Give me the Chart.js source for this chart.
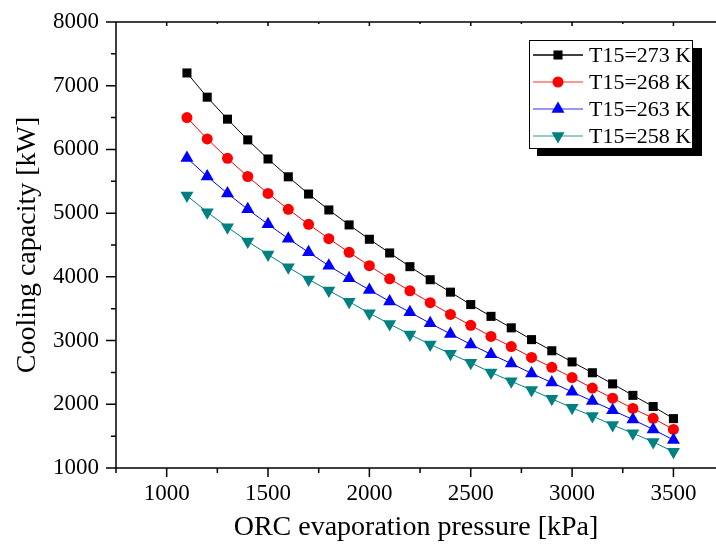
<!DOCTYPE html>
<html lang="en">
<head>
  <meta charset="UTF-8">
  <title>Cooling capacity vs ORC evaporation pressure</title>
  <style>
    body {
      margin: 0;
      padding: 0;
      background: #fff;
    }
    #chart {
      display: block;
    }
  </style>
</head>
<body>

<canvas id="chart" width="716" height="544"></canvas>

<script src="https://cdn.jsdelivr.net/npm/chart.js"></script>

<script>
  // ORC evaporation pressure [kPa]
  var pressure = [1100, 1200, 1300, 1400, 1500, 1600, 1700, 1800, 1900, 2000,
                  2100, 2200, 2300, 2400, 2500, 2600, 2700, 2800, 2900, 3000,
                  3100, 3200, 3300, 3400, 3500];

  // Cooling capacity [kW] for each T15
  var t273 = [7200, 6820, 6475, 6150, 5850, 5570, 5300, 5050, 4815, 4590,
              4375, 4160, 3955, 3760, 3565, 3380, 3200, 3015, 2840, 2665,
              2495, 2320, 2140, 1965, 1775];
  var t268 = [6500, 6165, 5860, 5575, 5310, 5060, 4825, 4600, 4385, 4175,
              3970, 3780, 3595, 3410, 3240, 3065, 2905, 2735, 2580, 2420,
              2255, 2095, 1935, 1780, 1605];
  var t263 = [5865, 5575, 5310, 5060, 4825, 4600, 4385, 4175, 3980, 3795,
              3615, 3445, 3270, 3105, 2940, 2785, 2640, 2485, 2340, 2195,
              2050, 1905, 1760, 1605, 1440];
  var t258 = [5275, 5015, 4780, 4555, 4350, 4150, 3960, 3785, 3610, 3430,
              3260, 3095, 2940, 2795, 2650, 2500, 2360, 2225, 2085, 1945,
              1815, 1675, 1545, 1410, 1255];

  var seriesLabels = ['T15=273 K', 'T15=268 K', 'T15=263 K', 'T15=258 K'];
  // major (labelled) and minor tick positions
  var xTickLabels = [1000, 1500, 2000, 2500, 3000, 3500];
  var xMinorTicks = [750, 1250, 1750, 2250, 2750, 3250];
  var yTickLabels = [1000, 2000, 3000, 4000, 5000, 6000, 7000, 8000];
  var yMinorTicks = [1500, 2500, 3500, 4500, 5500, 6500, 7500];

  var FONT = "'Liberation Serif', 'Times New Roman', serif";

  function toPoints(ys) {
    return ys.map(function(y, i) { return { x: pressure[i], y: y }; });
  }

  function tickList(major, minor) {
    return major.concat(minor).sort(function(a, b) { return a - b; })
      .map(function(v) { return { value: v }; });
  }

  // axis lines + Origin style tick marks (major long, minor short)
  var frame = {
    id: 'frame',
    afterDraw: function(chart) {
      var ctx = chart.ctx;
      var a = chart.chartArea;
      var xs = chart.scales.x;
      var ys = chart.scales.y;
      ctx.save();
      ctx.strokeStyle = '#000';
      ctx.lineWidth = 1.5;
      ctx.beginPath();
      ctx.moveTo(a.left, a.top);
      ctx.lineTo(a.left, a.bottom);
      ctx.lineTo(a.right, a.bottom);
      ctx.moveTo(a.left, a.top);
      ctx.lineTo(a.right, a.top);

      xs.ticks.forEach(function(t) {
        var px = xs.getPixelForValue(t.value);
        var major = xTickLabels.indexOf(t.value) >= 0;
        ctx.moveTo(px, a.bottom);
        ctx.lineTo(px, a.bottom + (major ? 9 : 5));
        ctx.moveTo(px, a.top);
        ctx.lineTo(px, a.top + (major ? 4 : 2));
      });
      ys.ticks.forEach(function(t) {
        var py = ys.getPixelForValue(t.value);
        var major = yTickLabels.indexOf(t.value) >= 0;
        ctx.moveTo(a.left, py);
        ctx.lineTo(a.left - (major ? 10 : 5), py);
      });
      ctx.stroke();
      ctx.restore();
    }
  };

  // boxed legend with a drop shadow, inside the plot
  var boxLegend = {
    id: 'boxLegend',
    afterDraw: function(chart) {
      var ctx = chart.ctx;
      var x = 529, y = 40, w = 163, h = 108;
      ctx.save();
      ctx.fillStyle = '#000';
      ctx.fillRect(x + 8, y + 8, w + 2, h);
      ctx.fillStyle = '#fff';
      ctx.fillRect(x, y, w, h);
      ctx.strokeStyle = '#000';
      ctx.lineWidth = 1;
      ctx.strokeRect(x + 0.5, y + 0.5, w, h);

      ctx.font = '22px ' + FONT;
      ctx.textBaseline = 'middle';
      chart.data.datasets.forEach(function(ds, i) {
        var cy = 55 + i * 27;
        ctx.globalAlpha = i === 0 ? 1 : 0.55;
        ctx.strokeStyle = ds.borderColor;
        ctx.lineWidth = 1.5;
        ctx.beginPath();
        ctx.moveTo(533, cy);
        ctx.lineTo(583, cy);
        ctx.stroke();
        ctx.globalAlpha = 1;
        ctx.fillStyle = ds.pointBackgroundColor;
        ctx.strokeStyle = ds.pointBackgroundColor;
        Chart.helpers.drawPoint(ctx, {
          pointStyle: ds.pointStyle,
          rotation: ds.pointRotation || 0,
          radius: ds.pointRadius,
          borderWidth: 0
        }, 558, cy);
        ctx.fillStyle = '#000';
        ctx.fillText(ds.label, 589, cy + 1);
      });
      ctx.restore();
    }
  };

  function series(label, ys, color, style, radius, rotation, order) {
    return {
      label: label,
      data: toPoints(ys),
      borderColor: color,
      backgroundColor: color,
      pointBackgroundColor: color,
      pointBorderColor: color,
      pointBorderWidth: 0,
      pointStyle: style,
      pointRadius: radius,
      pointRotation: rotation,
      borderWidth: 1,
      showLine: true,
      order: order
    };
  }

  var ctx = document.getElementById('chart').getContext('2d');
  var chart = new Chart(ctx, {
    type: 'scatter',
    data: {
      datasets: [
        series(seriesLabels[0], t273, '#000000', 'rect', 6.4, 0, 4),
        series(seriesLabels[1], t268, '#ff0000', 'circle', 5.5, 0, 3),
        series(seriesLabels[2], t263, '#0000ff', 'triangle', 7.5, 0, 2),
        series(seriesLabels[3], t258, '#008080', 'triangle', 7.5, 180, 1)
      ]
    },
    options: {
      responsive: false,
      animation: false,
      layout: { autoPadding: false, padding: { top: 22, right: 0, left: 0, bottom: 0 } },
      plugins: {
        legend: { display: false },
        tooltip: { enabled: false }
      },
      scales: {
        x: {
          type: 'linear',
          min: 750,
          max: 3710,
          grid: { display: false, drawTicks: false },
          border: { display: false },
          afterBuildTicks: function(scale) {
            scale.ticks = tickList(xTickLabels, xMinorTicks);
          },
          ticks: {
            padding: 12,
            color: '#000',
            font: { family: FONT, size: 23 },
            autoSkip: false,
            maxRotation: 0,
            callback: function(v) { return xTickLabels.indexOf(v) >= 0 ? String(v) : ''; }
          },
          title: {
            display: true,
            text: 'ORC evaporation pressure [kPa]',
            color: '#000',
            font: { family: FONT, size: 28 },
            padding: { top: 0, bottom: 0 }
          },
          afterFit: function(scale) {
            scale.height = 76;
            scale.paddingLeft = 0;
            scale.paddingRight = 0;
          }
        },
        y: {
          min: 1000,
          max: 8000,
          grid: { display: false, drawTicks: false },
          border: { display: false },
          afterBuildTicks: function(scale) {
            scale.ticks = tickList(yTickLabels, yMinorTicks);
          },
          ticks: {
            padding: 17,
            color: '#000',
            font: { family: FONT, size: 23 },
            autoSkip: false,
            callback: function(v) { return yTickLabels.indexOf(v) >= 0 ? String(v) : ''; }
          },
          title: {
            display: true,
            text: 'Cooling capacity [kW]',
            color: '#000',
            font: { family: FONT, size: 28 },
            padding: { top: 11, bottom: 0 }
          },
          afterFit: function(scale) {
            scale.width = 116;
            scale.paddingTop = 0;
            scale.paddingBottom = 0;
          }
        }
      }
    },
    plugins: [frame, boxLegend]
  });
</script>

</body>
</html>
